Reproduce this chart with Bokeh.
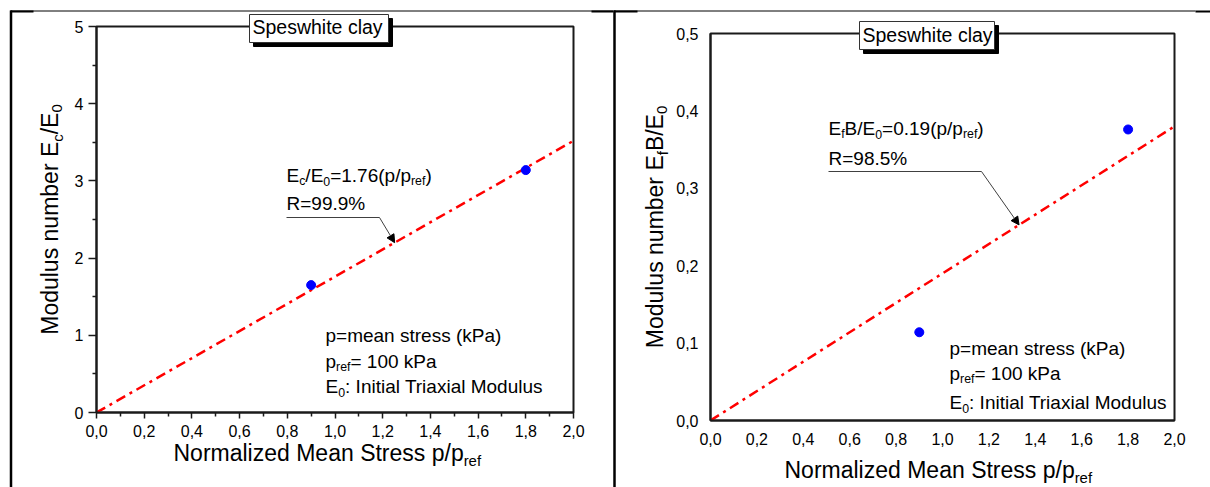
import math

from bokeh.core.properties import value
from bokeh.embed import file_html
from bokeh.layouts import row
from bokeh.models import (Arrow, ColumnDataSource, CustomJSTickFormatter,
                          FixedTicker, NormalHead, Range1d)
from bokeh.plotting import figure
from bokeh.resources import INLINE

# ---------------------------------------------------------------- data
stress_ratio = [0.9, 1.8]          # p / p_ref
ec_over_e0 = [1.65, 3.14]          # E_c / E_0
efb_over_e0 = [0.114, 0.376]       # E_f B / E_0
slope_ec = 1.76
slope_efb = 0.19
r_ec = "99.9%"
r_efb = "98.5%"
fit_x = [0.0, 2.0]
x_ticks = [0.0, 0.2, 0.4, 0.6, 0.8, 1.0, 1.2, 1.4, 1.6, 1.8, 2.0]
x_minor = [0.1, 0.3, 0.5, 0.7, 0.9, 1.1, 1.3, 1.5, 1.7, 1.9]
ec_ticks = [0, 1, 2, 3, 4, 5]
ec_minor = [0.5, 1.5, 2.5, 3.5, 4.5]
efb_ticks = [0.0, 0.1, 0.2, 0.3, 0.4, 0.5]

FONT = "Liberation Sans"
SUB = 0.65        # subscript scale
DROP = 0.2        # subscript drop, in em of the parent text
LIFT = 0.39       # baseline correction for the text glyph, in em
H = 487

# Arial / Liberation Sans advance widths (1/1000 em)
ADV = {' ': 278, '%': 889, '(': 333, ')': 333, ',': 278, '.': 278, '/': 278,
       ':': 278, '=': 584, 'B': 667, 'E': 667, 'I': 278, 'M': 833, 'N': 722,
       'P': 667, 'R': 722, 'S': 667, 'T': 611, 'a': 556, 'b': 556, 'c': 500,
       'd': 556, 'e': 556, 'f': 278, 'h': 556, 'i': 222, 'k': 500, 'l': 222,
       'm': 833, 'n': 556, 'o': 556, 'p': 556, 'r': 333, 's': 500, 't': 278,
       'u': 556, 'w': 722, 'x': 500, 'y': 500, 'z': 500}
for d in "0123456789":
    ADV[d] = 556


def text_width(s, size):
    return sum(ADV.get(c, 556) for c in s) / 1000.0 * size


class Panel:
    """One bordered chart cell; free texts and rules are placed in pixels."""

    def __init__(self, width, left, right, top, bottom, xr, yr):
        self.left, self.right, self.top, self.bottom = left, right, top, bottom
        self.xr, self.yr = xr, yr
        self.fig = figure(width=width, height=H, output_backend="svg",
                          toolbar_location=None, title=None, frame_align=False,
                          x_range=Range1d(*xr), y_range=Range1d(*yr),
                          min_border_left=left, min_border_right=width - right,
                          min_border_top=top, min_border_bottom=H - bottom,
                          background_fill_color="white",
                          border_fill_color="white")
        self.texts = dict(x=[], y=[], text=[], size=[], angle=[])
        self.rules = dict(x0=[], y0=[], x1=[], y1=[], w=[], c=[])
        self.boxes = dict(l=[], r=[], t=[], b=[], fill=[], line=[])

    def data(self, px, py):
        x0, x1 = self.xr
        y0, y1 = self.yr
        x = x0 + (px - self.left) / (self.right - self.left) * (x1 - x0)
        y = y0 + (self.bottom - py) / (self.bottom - self.top) * (y1 - y0)
        return x, y

    def text(self, px, py, txt, size, angle=0.0):
        # (px, py) is the baseline start; move it "up" in the text's frame
        if angle == 0:
            py -= LIFT * size
        else:
            px -= LIFT * size
        x, y = self.data(px, py)
        t = self.texts
        t["x"].append(x)
        t["y"].append(y)
        t["text"].append(txt)
        t["size"].append(f"{size:.2f}px")
        t["angle"].append(angle)

    def rich(self, px, py, parts, size, angle=0.0):
        """Text runs with subscripts, starting at baseline point (px, py)."""
        adv = 0.0
        for txt, sub in parts:
            s = size * SUB if sub else size
            shift = size * DROP if sub else 0.0
            if angle == 0:
                self.text(px + adv, py + shift, txt, s)
            else:
                self.text(px + shift, py - adv, txt, s, angle)
            adv += text_width(txt, s)

    def rich_len(self, parts, size):
        return sum(text_width(t, size * SUB if s else size) for t, s in parts)

    def rule(self, px0, py0, px1, py1, width=1.0, color="black"):
        a, b = self.data(px0, py0)
        c, d = self.data(px1, py1)
        r = self.rules
        r["x0"].append(a)
        r["y0"].append(b)
        r["x1"].append(c)
        r["y1"].append(d)
        r["w"].append(width)
        r["c"].append(color)

    def box(self, pl, pt, pr, pb, fill, line):
        a, b = self.data(pl, pt)
        c, d = self.data(pr, pb)
        bx = self.boxes
        bx["l"].append(a)
        bx["t"].append(b)
        bx["r"].append(c)
        bx["b"].append(d)
        bx["fill"].append(fill)
        bx["line"].append(line)

    def leader(self, px0, py, pxk, tip_x, tip_y):
        self.rule(px0, py, pxk, py, 1, "#404040")
        kx, ky = self.data(pxk, py)
        self.fig.add_layout(Arrow(
            x_start=kx, y_start=ky, x_end=tip_x, y_end=tip_y, start=None,
            end=NormalHead(size=8, fill_color="black", line_color="black",
                           line_width=1),
            line_color="#404040", line_width=1))

    def title_box(self, pl, pt, pr, pb, tx, ty, txt):
        self.box(pl + 4, pt + 4, pr + 4, pb + 4, "black", "black")
        self.box(pl, pt, pr, pb, "white", "#333333")
        self.text(tx, ty, txt, 19.5)

    def finish(self):
        p = self.fig
        p.quad(left="l", right="r", top="t", bottom="b", fill_color="fill",
               line_color="line", line_width=1,
               source=ColumnDataSource(self.boxes), level="overlay")
        p.segment(x0="x0", y0="y0", x1="x1", y1="y1", line_width="w",
                  line_color="c", source=ColumnDataSource(self.rules),
                  level="overlay")
        p.text(x="x", y="y", text="text", angle="angle",
               text_font_size="size", text_font=value(FONT),
               text_color="black", text_align="left",
               text_baseline="alphabetic",
               source=ColumnDataSource(self.texts), level="overlay")


def style_axes(p, ticks_out):
    p.xgrid.visible = False
    p.ygrid.visible = False
    p.outline_line_color = "#1a1a1a"
    p.outline_line_width = 2
    for ax in (p.xaxis[0], p.yaxis[0]):
        ax.axis_label = None
        ax.axis_line_color = "#1a1a1a"
        ax.axis_line_width = 2
        ax.major_label_text_font = FONT
        ax.major_label_text_font_size = "16px"
        ax.major_label_text_color = "black"
        ax.major_tick_in = 0
        ax.minor_tick_in = 0
        ax.major_tick_line_color = "#1a1a1a"
        ax.minor_tick_line_color = "#1a1a1a"
        ax.major_tick_line_width = 1.5
        ax.minor_tick_line_width = 1.5
    if ticks_out:
        p.xaxis[0].major_tick_out = 6
        p.xaxis[0].minor_tick_out = 4
        p.xaxis[0].major_label_standoff = 6
        p.yaxis[0].major_tick_out = 8
        p.yaxis[0].minor_tick_out = 4
        p.yaxis[0].major_label_standoff = 5
    else:
        for ax in (p.xaxis[0], p.yaxis[0]):
            ax.major_tick_out = 0
            ax.minor_tick_out = 0
            ax.major_label_standoff = 12


comma_fmt = CustomJSTickFormatter(code="return tick.toFixed(1).replace('.', ',');")
x_title = [("Normalized Mean Stress p/p", 0), ("ref", 1)]

# ---------------------------------------------------------------- left panel
L = Panel(613, 96, 573, 26, 412, (0, 2), (0, 5))
pl = L.fig
style_axes(pl, True)
pl.xaxis[0].ticker = FixedTicker(ticks=x_ticks, minor_ticks=x_minor)
pl.xaxis[0].formatter = comma_fmt
pl.yaxis[0].ticker = FixedTicker(ticks=ec_ticks, minor_ticks=ec_minor)

fit_l = ColumnDataSource(dict(x=fit_x, y=[slope_ec * v for v in fit_x]))
pl.line("x", "y", source=fit_l, line_color="#ff0000", line_width=2.5,
        line_dash="10 5 3 5")
pl.scatter(stress_ratio, ec_over_e0, size=9, color="#0000ff")

# cell rules
L.rule(10.5, 10, 10.5, H, 2.5)
L.rule(10, 10.5, 613, 10.5, 1)
L.rule(10, 11, 33, 11, 2)
L.rule(591, 11, 613, 11, 2)

L.title_box(249, 14, 388, 42, 252, 34, "Speswhite clay")

eq_l = [("E", 0), ("c", 1), ("/E", 0), ("0", 1),
        (f"={slope_ec:.2f}(p/p", 0), ("ref", 1), (")", 0)]
L.rich(286, 182, eq_l, 19)
L.rich(286, 210, [(f"R={r_ec}", 0)], 19)
tip_l = 1.25
L.leader(286, 217, 379, tip_l, slope_ec * tip_l)

L.rich(325, 342, [("p=mean stress (kPa)", 0)], 19)
L.rich(325, 368, [("p", 0), ("ref", 1), ("= 100 kPa", 0)], 19)
L.rich(325, 393, [("E", 0), ("0", 1), (": Initial Triaxial Modulus", 0)], 19)

L.rich(173, 461, x_title, 23)
yt_l = [("Modulus number E", 0), ("c", 1), ("/E", 0), ("0", 1)]
L.rich(58, (26 + 412) / 2 + L.rich_len(yt_l, 23) / 2, yt_l, 23, math.pi / 2)
L.finish()

# ---------------------------------------------------------------- right panel
R = Panel(597, 97, 561, 33, 420, (0, 2), (0, 0.5))
pr = R.fig
style_axes(pr, False)
pr.xaxis[0].ticker = FixedTicker(ticks=x_ticks, minor_ticks=[])
pr.xaxis[0].formatter = comma_fmt
pr.yaxis[0].ticker = FixedTicker(ticks=efb_ticks, minor_ticks=[])
pr.yaxis[0].formatter = comma_fmt

fit_r = ColumnDataSource(dict(x=fit_x, y=[slope_efb * v for v in fit_x]))
pr.line("x", "y", source=fit_r, line_color="#ff0000", line_width=2.5,
        line_dash="10 5 3 5")
pr.scatter(stress_ratio, efb_over_e0, size=9, color="#0000ff")

R.rule(1, 10, 1, H, 2.5)
R.rule(0, 10.5, 582, 10.5, 1)
R.rule(0, 11, 24, 11, 2)
R.rule(582, 11, 597, 11, 2)

R.title_box(246, 21, 381, 49, 249, 42, "Speswhite clay")

eq_r = [("E", 0), ("f", 1), ("B/E", 0), ("0", 1),
        (f"={slope_efb:.2f}(p/p", 0), ("ref", 1), (")", 0)]
R.rich(215, 135, eq_r, 19)
R.rich(215, 165, [(f"R={r_efb}", 0)], 19)
tip_r = 1.33
R.leader(215, 171, 368, tip_r, slope_efb * tip_r)

R.rich(336, 355, [("p=mean stress (kPa)", 0)], 19)
R.rich(336, 380, [("p", 0), ("ref", 1), ("= 100 kPa", 0)], 19)
R.rich(336, 409, [("E", 0), ("0", 1), (": Initial Triaxial Modulus", 0)], 19)

R.rich(171, 478, x_title, 23)
yt_r = [("Modulus number E", 0), ("f", 1), ("B/E", 0), ("0", 1)]
R.rich(50, (33 + 420) / 2 + R.rich_len(yt_r, 23) / 2, yt_r, 23, math.pi / 2)
R.finish()

page = row(pl, pr, spacing=0)
open("out.html", "w").write(file_html(page, INLINE))
